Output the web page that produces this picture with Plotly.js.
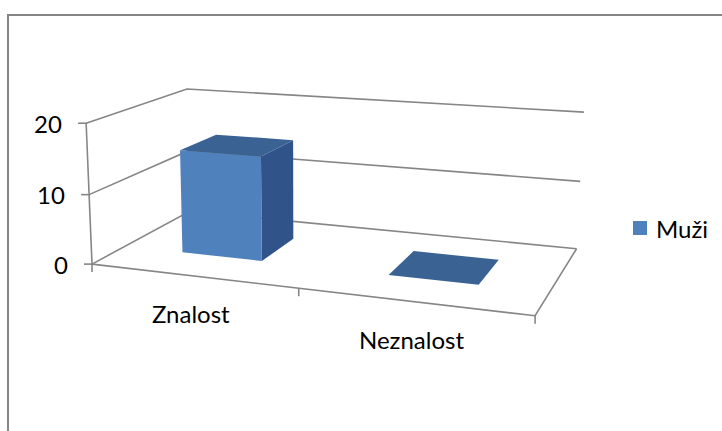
<!DOCTYPE html>
<html><head><meta charset="utf-8">
<script src="https://cdn.plot.ly/plotly-3.0.1.min.js"></script>
<style>html,body{margin:0;padding:0;background:#fff}</style>
</head><body><div id="chart" style="width:722px;height:431px"></div>
<script>
// ---- data ----
const categories = ['Znalost', 'Neznalost'];
const seriesName = 'Muži';
const values = [15, 0];
const yTicks = [0, 10, 20];
const yTickLabels = ['0', '10', '20'];
const yMax = 20;

// ---- frame geometry (perspective camera calibrated on the chart frame) ----
const calib = [
  [0, 0, 0, 93.3, 263.3], [0, 10, 0, 89, 194.5], [0, 20, 0, 85, 123.3],
  [0, 0, 1, 188.3, 212.2], [0, 10, 1, 188.3, 151.5], [0, 20, 1, 188.3, 88.3],
  [1, 0, 1, 576.7, 247.7], [1, 10, 1, 580.7, 181], [1, 20, 1, 583.3, 112.7],
  [1, 0, 0, 535, 316.7]
];
const barOffset = 0.15, barWidth = 0.2, zFront = 0.31, zBack = 0.70;

function fitCamera(pts) {
  const A = [], b = [];
  pts.forEach(([X, Yv, Z, u, v]) => {
    const Y = Yv / yMax;
    A.push([X, Y, Z, 1, 0, 0, 0, 0, -u * X, -u * Y, -u * Z]); b.push(u);
    A.push([0, 0, 0, 0, X, Y, Z, 1, -v * X, -v * Y, -v * Z]); b.push(v);
  });
  const n = 11, M = [];
  for (let i = 0; i < n; i++) {
    M.push(new Array(n + 1).fill(0));
    for (let j = 0; j < n; j++) { let s = 0; for (let k = 0; k < A.length; k++) s += A[k][i] * A[k][j]; M[i][j] = s; }
    let s = 0; for (let k = 0; k < A.length; k++) s += A[k][i] * b[k]; M[i][n] = s;
  }
  for (let c = 0; c < n; c++) {
    let p = c; for (let r = c + 1; r < n; r++) if (Math.abs(M[r][c]) > Math.abs(M[p][c])) p = r;
    const t = M[c]; M[c] = M[p]; M[p] = t;
    for (let r = 0; r < n; r++) { if (r === c) continue; const f = M[r][c] / M[c][c]; for (let k = c; k <= n; k++) M[r][k] -= f * M[c][k]; }
  }
  return M.map((row, i) => row[n] / row[i]);
}
const P = fitCamera(calib);
function proj(X, Yv, Z) {
  const Y = Yv / yMax, w = P[8] * X + P[9] * Y + P[10] * Z + 1;
  return [(P[0] * X + P[1] * Y + P[2] * Z + P[3]) / w, (P[4] * X + P[5] * Y + P[6] * Z + P[7]) / w];
}

const traces = [];
function lineTrace(segs, color, width) {
  const x = [], y = [];
  segs.forEach(s => { s.forEach(p => { const q = proj(...p); x.push(q[0]); y.push(q[1]); }); x.push(null); y.push(null); });
  traces.push({type: 'scatter', mode: 'lines', x, y, line: {color, width}, hoverinfo: 'skip', showlegend: false});
}
function face(pts, color) {
  const x = [], y = [];
  pts.forEach(p => { const q = proj(...p); x.push(q[0]); y.push(q[1]); });
  x.push(x[0]); y.push(y[0]);
  traces.push({type: 'scatter', mode: 'lines', x, y, fill: 'toself', fillcolor: color, line: {width: 0, color}, hoverinfo: 'skip', showlegend: false});
}
const gridColor = '#868686';
// wall gridlines
lineTrace(yTicks.map(t => [[0, t, 0], [0, t, 1], [1, t, 1]]), gridColor, 1.6);
// value axis + floor edges
lineTrace([[[0, 0, 0], [0, yMax, 0]], [[0, 0, 0], [1, 0, 0], [1, 0, 1]]], gridColor, 1.6);

// bars
const nCat = categories.length, catW = 1 / nCat;
values.forEach((v, i) => {
  const x0 = i * catW + barOffset, x1 = x0 + barWidth;
  if (v > 0) {
    face([[x1, 0, zFront], [x1, 0, zBack], [x1, v, zBack], [x1, v, zFront]], '#30548A');
    face([[x0, 0, zFront], [x1, 0, zFront], [x1, v, zFront], [x0, v, zFront]], '#4F81BD');
  }
  face([[x0, v, zFront], [x1, v, zFront], [x1, v, zBack], [x0, v, zBack]], '#3A6394');
});

// ticks
const tickSegX = [], tickSegY = [];
yTicks.forEach(t => { const q = proj(0, t, 0); tickSegX.push(q[0] - 8, q[0] + 1, null); tickSegY.push(q[1], q[1], null); });
for (let i = 0; i <= nCat; i++) { const q = proj(i * catW, 0, 0); tickSegX.push(q[0], q[0], null); tickSegY.push(q[1], q[1] + 8, null); }
traces.push({type: 'scatter', mode: 'lines', x: tickSegX, y: tickSegY, line: {color: gridColor, width: 1.6}, hoverinfo: 'skip', showlegend: false});

const font = {family: 'Lato, "Open Sans", sans-serif', size: 24, color: '#000'};
const annotations = [];
yTicks.forEach((t, i) => { const q = proj(0, t, 0); annotations.push({x: q[0] - 22, y: q[1], xref: 'x', yref: 'y', text: yTickLabels[i], showarrow: false, xanchor: 'right', yanchor: 'middle', font}); });
categories.forEach((c, i) => { const q = proj((i + 0.5) * catW, 0, 0); annotations.push({x: q[0] - 1, y: q[1] + 38, xref: 'x', yref: 'y', text: c, showarrow: false, xanchor: 'center', yanchor: 'middle', font}); });
annotations.push({x: 654, y: 228, xref: 'x', yref: 'y', text: seriesName, showarrow: false, xanchor: 'left', yanchor: 'middle', font});

const shapes = [
  {type: 'rect', xref: 'x', yref: 'y', x0: 8, y0: 15, x1: 740, y1: 450, line: {color: '#868686', width: 2}, fillcolor: 'rgba(0,0,0,0)', layer: 'below'},
  {type: 'rect', xref: 'x', yref: 'y', x0: 633, y0: 221, x1: 647, y1: 235, line: {width: 0}, fillcolor: '#4F81BD'}
];

Plotly.newPlot('chart', traces, {
  width: 722, height: 431, margin: {l: 0, r: 0, t: 0, b: 0},
  paper_bgcolor: '#fff', plot_bgcolor: '#fff', showlegend: false,
  xaxis: {range: [0, 722], visible: false, fixedrange: true},
  yaxis: {range: [431, 0], visible: false, fixedrange: true},
  annotations, shapes
}, {staticPlot: true});
</script></body></html>
